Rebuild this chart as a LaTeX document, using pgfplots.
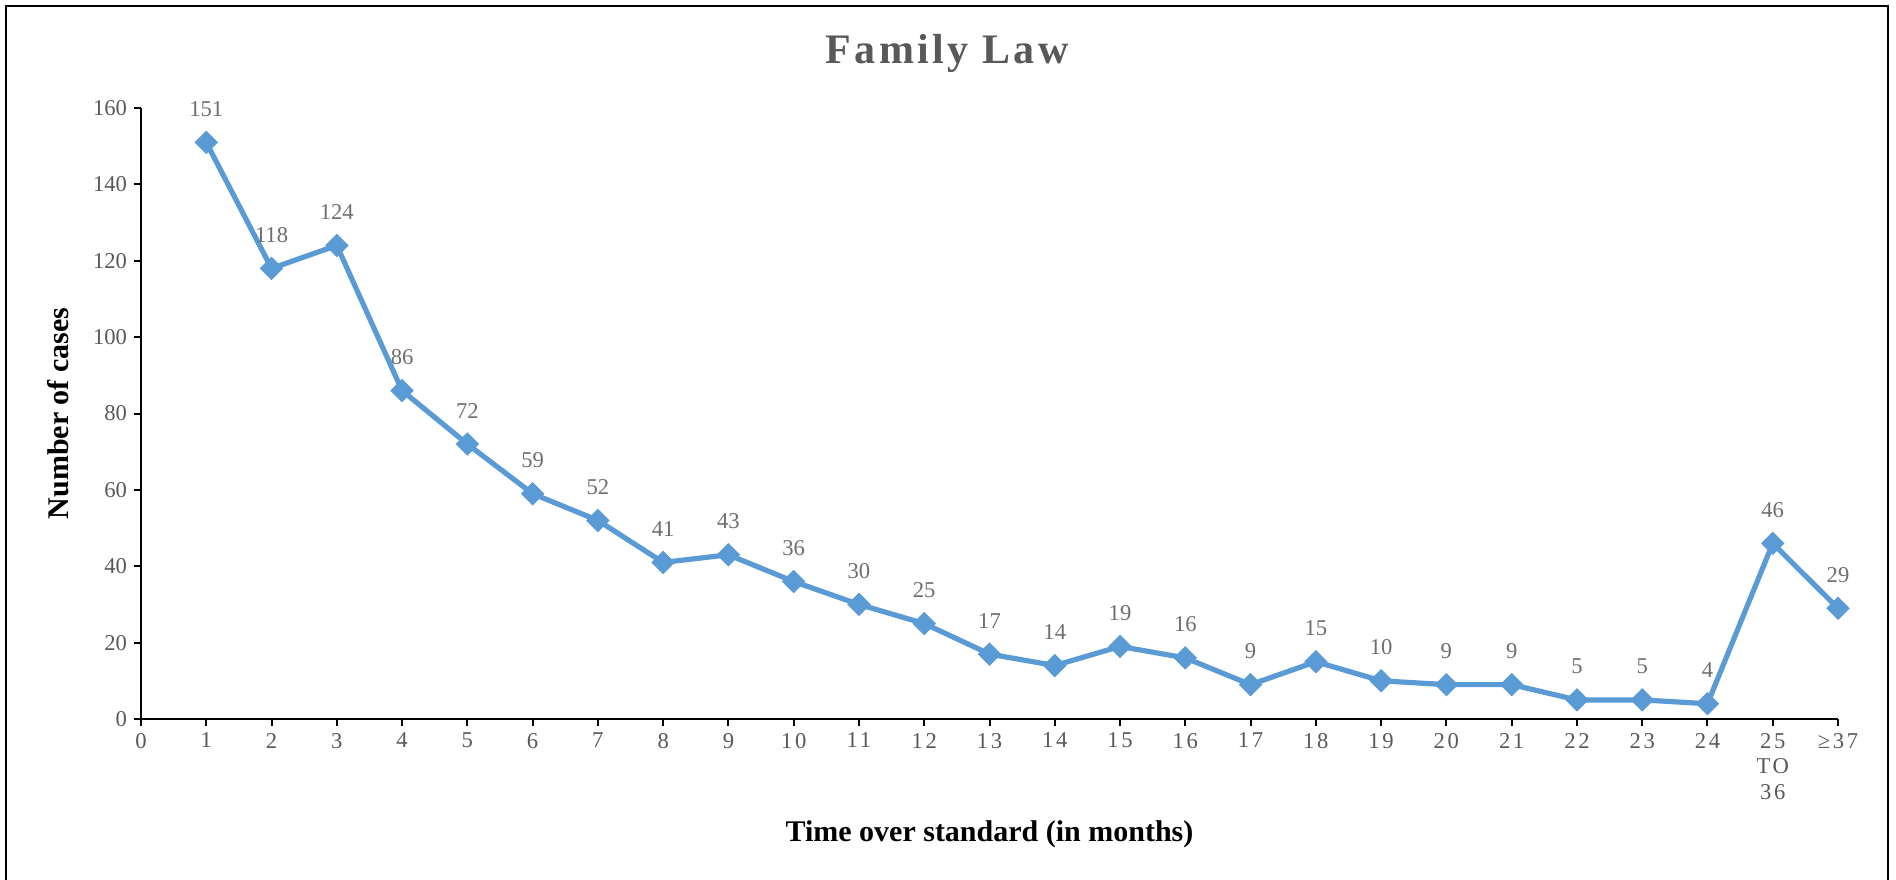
\documentclass[border=0pt]{standalone}
\usepackage{fontspec}
\setmainfont{Liberation Serif}
\usepackage{pgfplots}
\pgfplotsset{compat=1.18}
\definecolor{lineblue}{HTML}{5B9BD5}
\definecolor{txtgray}{HTML}{595959}
\definecolor{lblgray}{HTML}{6E6E6E}
\begin{document}
\begin{tikzpicture}
\useasboundingbox (-70.5pt,-80pt) rectangle (877.5pt,359.5pt);
\draw[line width=1.2pt,black] (-67.5pt,-82pt) -- (-67.5pt,356.5pt) -- (873.5pt,356.5pt) -- (873.5pt,-82pt);
\begin{axis}[
  at={(0pt,0pt)}, anchor=south west,
  scale only axis, width=848.5pt, height=305.5pt,
  xmin=0, xmax=26, ymin=0, ymax=160,
  xtick={0,...,26},
  xticklabels={0,1,2,3,4,5,6,7,8,9,10,11,12,13,14,15,16,17,18,19,20,21,22,23,24,{25\\TO\\36},≥37},
  ytick={0,20,...,160},
  axis x line*=bottom, axis y line*=left,
  axis line style={line width=1pt, black},
  tick style={line width=1pt, black},
  major tick length=3.5pt, tick align=outside,
  /pgf/number format/assume math mode=true,
  xticklabel style={font=\fontsize{11.3}{12.75}\selectfont\addfontfeatures{LetterSpace=12}, text=txtgray, align=center},
  yticklabel style={font=\fontsize{11.3}{12.75}\selectfont, text=txtgray},
  title={Family Law},
  title style={at={(axis description cs:0.475,1.0524)}, anchor=base, font=\fontsize{21}{24}\selectfont\bfseries\addfontfeatures{LetterSpace=8}, text=txtgray},
  xlabel={Time over standard (in months)},
  xlabel style={at={(axis description cs:0.5,-0.2007)}, anchor=base, font=\fontsize{15}{18}\selectfont\bfseries, text=black},
  ylabel={Number of cases},
  ylabel style={at={(axis description cs:-0.0430,0.5)}, rotate=0, anchor=base, font=\fontsize{15}{18}\selectfont\bfseries, text=black},
  clip=false,
]
\addplot[lineblue, line width=2.6pt, mark=square*, mark size=3.9pt,
  mark options={rotate=45, solid, fill=lineblue, draw=lineblue, line width=0.5pt},
  nodes near coords,
  every node near coord/.append style={font=\fontsize{11.3}{12.75}\selectfont, text=lblgray, anchor=base, yshift=13pt, inner sep=0pt}]
coordinates {
(1,151) (2,118) (3,124) (4,86) (5,72) (6,59) (7,52) (8,41) (9,43) (10,36)
(11,30) (12,25) (13,17) (14,14) (15,19) (16,16) (17,9) (18,15) (19,10) (20,9)
(21,9) (22,5) (23,5) (24,4) (25,46) (26,29)
};
\end{axis}
\end{tikzpicture}
\end{document}
